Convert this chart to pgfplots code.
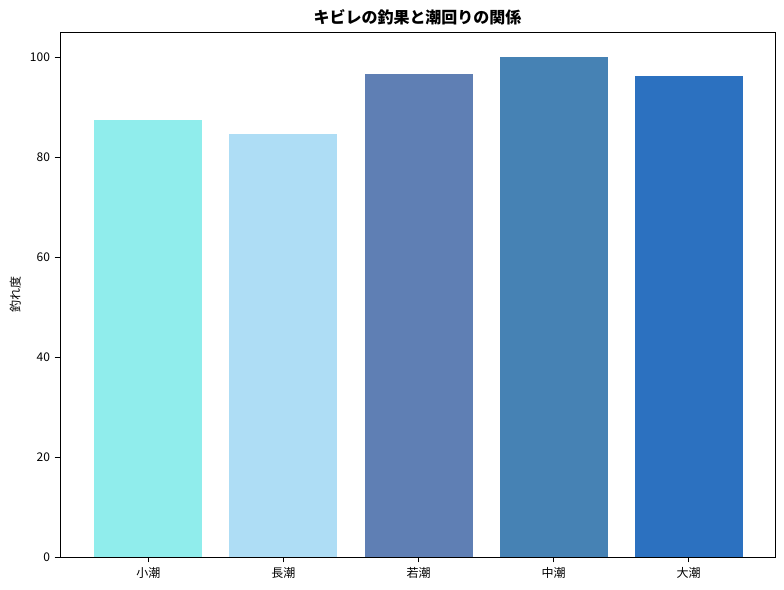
\documentclass[border=0pt]{standalone}
\usepackage{fontspec}
\setmainfont{Noto Sans CJK JP}
\usepackage{pgfplots}
\pgfplotsset{compat=1.18}
\definecolor{c1}{HTML}{90EDEC}
\definecolor{c2}{HTML}{AEDDF5}
\definecolor{c3}{HTML}{5F7FB4}
\definecolor{c4}{HTML}{4682B4}
\definecolor{c5}{HTML}{2C71C0}
\begin{document}
\begin{tikzpicture}
\begin{axis}[
    name=ax,
    scale only axis,
    width=536.25pt, height=393.75pt,
    xmin=-0.655, xmax=4.64,
    ymin=0, ymax=105,
    ytick={0,20,40,60,80,100},
    xtick={0,1,2,3,4},
    xticklabels={小潮,長潮,若潮,中潮,大潮},
    tick align=outside,
    tick style={black, thin},
    major tick length=4pt,
    xtick pos=bottom, ytick pos=left,
    ybar, bar width=0.8, bar shift=0pt,
    ylabel={釣れ度},
    ylabel style={font=\small},
    title={\bfseries キビレの釣果と潮回りの関係},
    title style={font=\large, yshift=-4pt},
    tick label style={font=\small},
    /pgf/number format/assume math mode=true,
    axis line style={black, thin},
]
\addplot[fill=c1, draw=none] coordinates {(0,87.3)};
\addplot[fill=c2, draw=none] coordinates {(1,84.5)};
\addplot[fill=c3, draw=none] coordinates {(2,96.5)};
\addplot[fill=c4, draw=none] coordinates {(3,100)};
\addplot[fill=c5, draw=none] coordinates {(4,96.1)};
\end{axis}
\useasboundingbox ([xshift=-45pt, yshift=-24.75pt] ax.south west) rectangle ([xshift=6.75pt, yshift=24pt] ax.north east);
\end{tikzpicture}
\end{document}
